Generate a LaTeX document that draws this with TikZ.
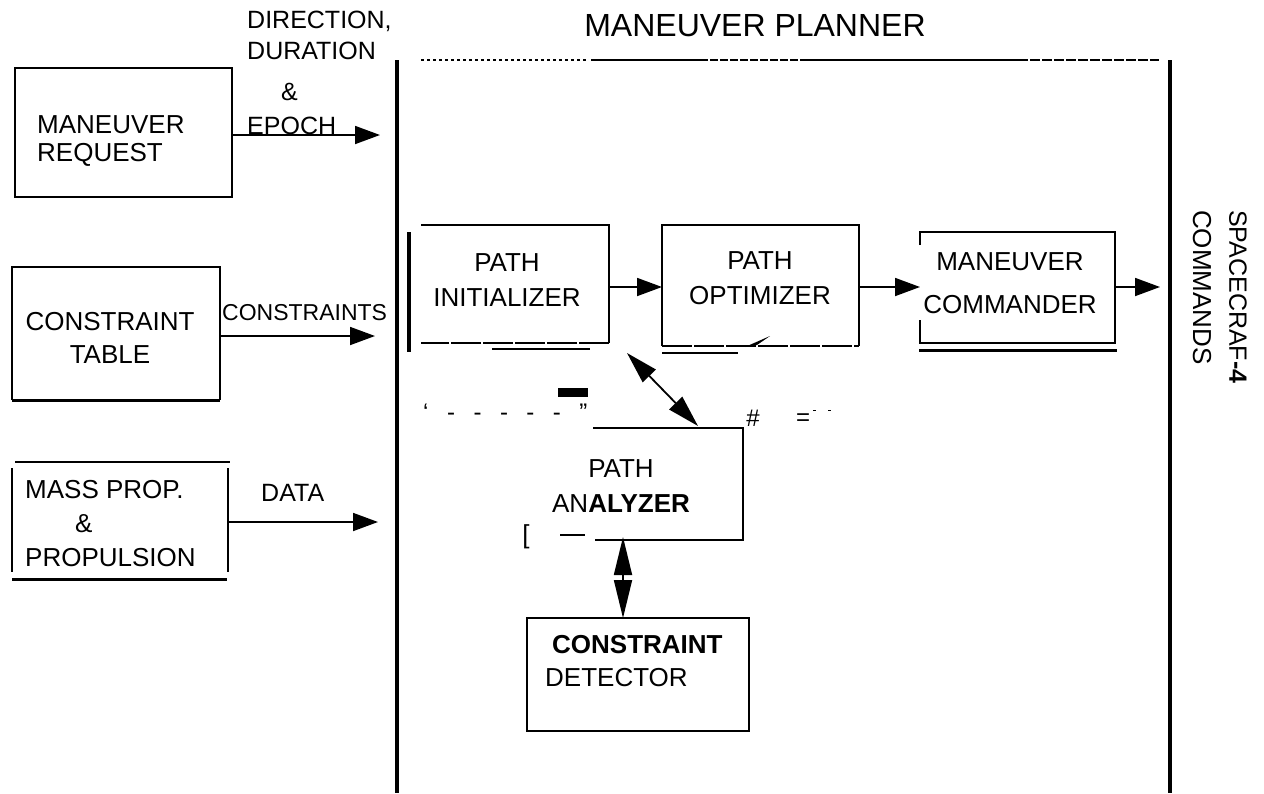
\documentclass[tikz,border=0pt]{standalone}
\usepackage{fontspec}
\setmainfont{Liberation Sans}
\usetikzlibrary{arrows.meta}
\begin{document}
\begin{tikzpicture}[x=1pt,y=-1pt,
  boxline/.style={line width=2pt},
  frameline/.style={line width=3.5pt},
  arr/.style={line width=1.8pt,-{Triangle[length=25pt,width=18pt]}},
  dblarr/.style={line width=1.8pt,{Triangle[length=32pt,width=18pt]}-{Triangle[length=32pt,width=18pt]}},
  vdblarr/.style={line width=1.8pt,{Triangle[length=38pt,width=18pt]}-{Triangle[length=38pt,width=18pt]}},
  box/.style={draw=none,inner sep=0pt,outer sep=0pt},
  txt/.style={inner sep=0pt,font=\fontsize{26}{35}\selectfont,align=center},
  lbl/.style={inner sep=0pt,font=\fontsize{25}{30}\selectfont,anchor=west},
  straymark/.style={inner sep=0pt,font=\fontsize{24}{24}\selectfont},
]
\useasboundingbox (0,0) rectangle (1264,793);

% ---------------- planner frame ----------------
\node[inner sep=0pt,font=\fontsize{32}{32}\selectfont] (title) at (755,26) {MANEUVER PLANNER};
\draw[frameline] (397,60) -- (397,793);
\draw[line width=4pt] (1170,60) -- (1170,793);
\draw[line width=1.2pt,dash pattern=on 3pt off 3pt] (421,60) -- (586,60);
\draw[line width=2pt] (591,60) -- (700,60);
\draw[line width=1.2pt,dash pattern=on 8pt off 2pt] (700,60) -- (807,60);
\draw[line width=2pt] (807,60) -- (1018,60);
\draw[line width=1.2pt,dash pattern=on 10pt off 2pt] (1018,60) -- (1159,60);

% entry points on the frame and exit point
\coordinate (in1) at (380,135);
\coordinate (in2) at (375,336);
\coordinate (in3) at (378,522);
\coordinate (out) at (1160,287);

% ---------------- external boxes ----------------
\node[box,minimum width=217pt,minimum height=129pt] (req) at (123.5,132.5) {};
\draw[boxline] (req.north west) rectangle (req.south east);
\node[txt,font=\fontsize{26}{28}\selectfont,align=left,anchor=west] (req-t) at (37,141) {MANEUVER\\REQUEST};

\node[box,minimum width=208pt,minimum height=133pt] (ctab) at (116,333.5) {};
\draw[boxline] (ctab.south west) -- (ctab.north west) -- (ctab.north east) -- (ctab.south east);
\draw[line width=3pt] (ctab.south west) -- (ctab.south east);
\node[txt,font=\fontsize{26}{33}\selectfont] (ctab-t) at (110,338) {CONSTRAINT\\TABLE};

\node[box,minimum width=216pt,minimum height=117pt] (mass) at (120,520.5) {};
\draw[boxline] (15,462) -- (230,462);
\draw[boxline] (12,468) -- (12,572);
\draw[boxline] (228,468) -- (228,572);
\draw[line width=3pt] (12,579) -- (227,579);
\node[txt,font=\fontsize{26}{34}\selectfont,align=left,anchor=west] (mass-t) at (25,524) {MASS PROP.\\\hspace*{50pt}\&\\PROPULSION};

% input labels
\node[lbl] (l1) at (247,21) {DIRECTION,};
\node[lbl] (l2) at (247,51) {DURATION};
\node[lbl] (l3) at (281,92) {\&};
\node[lbl] (l4) at (247,126) {EPOCH};
\node[lbl,font=\fontsize{23}{23}\selectfont] (l5) at (222,313) {CONSTRAINTS};
\node[lbl] (l6) at (261,493) {DATA};

\draw[arr] (req.east |- in1) -- (in1);
\draw[arr] (ctab.east |- in2) -- (in2);
\draw[arr] (mass.east |- in3) -- (in3);

% ---------------- planner modules ----------------
\node[box,minimum width=188pt,minimum height=118pt] (init) at (515,284) {};
\draw[boxline] (init.north west) -- (init.north east) -- (init.south east);
\draw[boxline,dash pattern=on 30pt off 2pt] (init.south east) -- (init.south west);
\draw[line width=4pt] (409,232) -- (409,352);
\draw[line width=2.5pt] (492,349) -- (590,349);
\node[txt] (init-t) at (507,280) {PATH\\INITIALIZER};

\node[box,minimum width=197pt,minimum height=121pt] (opt) at (760.5,285.5) {};
\draw[boxline] (opt.south east) -- (opt.north east) -- (opt.north west) -- (opt.south west);
\draw[boxline,dash pattern=on 30pt off 2pt] (opt.south west) -- (opt.south east);
\fill (745,347) -- (770,336) -- (757,345) -- cycle;
\draw[line width=1.5pt] (662,353) -- (700,353);
\draw[line width=2.5pt] (700,353) -- (738,353);
\node[txt] (opt-t) at (760,278) {PATH\\OPTIMIZER};

\node[box,minimum width=195pt,minimum height=111pt] (cmd) at (1017.5,287.5) {};
\draw[boxline] ([yshift=-13pt]cmd.north west) -- (cmd.north west) -- (cmd.north east)
  -- (cmd.south east) -- (cmd.south west) -- ([yshift=23pt]cmd.south west);
\draw[line width=3pt] (919,350) -- (1117,350);
\node[txt,font=\fontsize{26}{43}\selectfont] (cmd-t) at (1010,283) {MANEUVER\\COMMANDER};

\node[box,minimum width=150pt,minimum height=112pt] (ana) at (668,484) {};
\draw[boxline] (ana.north west) -- (ana.north east) -- (ana.south east) -- ([xshift=2pt]ana.south west);
\node[txt] (ana-t) at (621,486) {PATH\\AN\textbf{ALYZER}};

\node[box,minimum width=222pt,minimum height=113pt] (det) at (638,674.5) {};
\draw[boxline] (det.north west) rectangle (det.south east);
\node[txt,anchor=west] (det-t1) at (552,645) {\textbf{CONSTRAINT}};
\node[txt,anchor=west] (det-t2) at (545,678) {DETECTOR};

% output label
\node[inner sep=0pt,font=\fontsize{25}{25}\selectfont,rotate=-90,anchor=west] (sc1) at (1238,210) {SPACECRAF\textbf{-4}};
\node[inner sep=0pt,font=\fontsize{26}{26}\selectfont,rotate=-90,anchor=west] (sc2) at (1202,210) {COMMANDS};

% ---------------- connectors ----------------
\draw[arr] (init.east |- 0,287) -- (opt.west |- 0,287);
\draw[arr] (opt.east |- 0,287) -- (cmd.west |- 0,287);
\draw[arr] (cmd.east |- out) -- (out);
\draw[dblarr] ([shift={(18pt,-10pt)}]init.south east) -- ([xshift=30pt,yshift=2pt]ana.north);
\draw[vdblarr] ([xshift=-45pt,yshift=3pt]ana.south) -- ([xshift=-15pt]det.north);

% ---------------- stray marks ----------------
\fill (558,388) rectangle (588,397);
\node[straymark,anchor=west] (m1) at (423,412) {‘\hspace{18.5pt}-\hspace{18.5pt}-\hspace{18.5pt}-\hspace{18.5pt}-\hspace{18.5pt}-\hspace{18.5pt}”};
\node[straymark] (m2) at (753,418) {\#};
\node[straymark] (m3) at (803,420) {=};
\draw[line width=1pt] (813,410) -- (816,410);
\draw[line width=1pt] (828,410) -- (831,410);
\node[straymark,font=\fontsize{26}{26}\selectfont] (m4) at (526,537) {[};
\draw[line width=1.5pt] (560,535) -- (585,535);
\end{tikzpicture}
\end{document}
